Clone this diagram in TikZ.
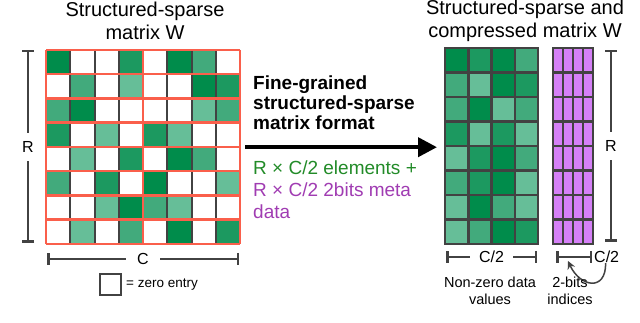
\documentclass[tikz,border=0pt]{standalone}
\usepackage{fontspec}
\setmainfont{Liberation Sans}
\usetikzlibrary{arrows.meta, positioning, calc}
\usepackage{xcolor}
\definecolor{nzA}{RGB}{0, 140, 75}
\definecolor{nzB}{RGB}{28, 153, 96}
\definecolor{nzC}{RGB}{66, 170, 124}
\definecolor{nzD}{RGB}{102, 190, 152}
\definecolor{sparseRed}{RGB}{250, 95, 75}
\definecolor{gridGray}{RGB}{66, 66, 66}
\definecolor{metaPurple}{RGB}{213, 128, 247}
\definecolor{elemGreen}{RGB}{34, 139, 40}
\definecolor{bitsPurple}{RGB}{160, 60, 178}

\begin{document}
\begin{tikzpicture}[
    x=1pt, y=-1pt,
    title/.style={align=center, font=\fontsize{20}{23}\selectfont},
    note/.style={align=left, anchor=west, inner sep=0pt},
    frame/.style={rectangle, inner sep=0pt, anchor=north west},
    dimline/.style={{Bar[width=12pt]}-{Bar[width=12pt]}, line width=2.5pt, gridGray},
    dimlabel/.style={fill=white, inner sep=0pt, font=\fontsize{16}{18}\selectfont},
    caption/.style={align=center, font=\fontsize{14.5}{17}\selectfont},
    bigarrow/.style={-{Triangle[length=19pt, width=19pt]}, line width=4pt, black}
]
\useasboundingbox (0,0) rectangle (640,323);

% Titles
\node[title] (tsparse) at (145,21) {Structured-sparse\\matrix W};
\node[title] (tcomp)   at (525,21) {Structured-sparse and\\compressed matrix W};

% Structured-sparse matrix, 8x8
\node[frame, minimum width=194pt, minimum height=194pt] (Wsp) at (46,50) {};
\foreach \row [count=\r from 0] in {{1,0,0,2,0,1,3,0},{0,3,0,4,0,0,1,2},{3,1,0,0,0,0,4,3},{2,0,4,0,2,4,0,0},
                                    {0,4,0,2,0,1,3,0},{3,0,2,0,1,0,0,4},{0,0,4,1,3,4,0,0},{0,4,0,3,0,1,0,2}}
  \foreach \v [count=\c from 0] in \row {
    \ifcase\v\or \fill[nzA] ({46+\c*24.25},{50+\r*24.25}) rectangle +(24.25,24.25);
    \or \fill[nzB] ({46+\c*24.25},{50+\r*24.25}) rectangle +(24.25,24.25);
    \or \fill[nzC] ({46+\c*24.25},{50+\r*24.25}) rectangle +(24.25,24.25);
    \or \fill[nzD] ({46+\c*24.25},{50+\r*24.25}) rectangle +(24.25,24.25);
    \fi
  };
\foreach \c in {1,2,3,5,6,7}
  \draw[gridGray, line width=2pt] ({46+\c*24.25},50) -- ++(0,194);
\foreach \r in {0,...,8}
  \draw[sparseRed, line width=2.5pt] (46,{50+\r*24.25}) -- ++(194,0);
\foreach \c in {0,4,8}
  \draw[sparseRed, line width=2.5pt] ({46+\c*24.25},50) -- ++(0,194);

% Dimensions of the sparse matrix
\draw[dimline] (28,50) -- (28,243);
\node[dimlabel, inner ysep=8pt] (rsp) at (28,147) {R};
\draw[dimline] (47,259) -- (239,259);
\node[dimlabel, inner xsep=11pt] (csp) at (143,259) {C};

% Legend
\draw[gridGray, line width=2.5pt] (100,274) rectangle (121,295);
\node[note, font=\fontsize{13.5}{16}\selectfont] (zero) at (126,285) {= zero entry};

% Compressed values, 8x4
\node[frame, minimum width=93pt, minimum height=196pt] (Wcomp) at (445,48) {};
\foreach \row [count=\r from 0] in {{1,2,1,3},{3,4,1,2},{3,1,4,3},{2,4,2,4},
                                    {4,2,1,3},{3,2,1,4},{4,1,3,4},{4,3,1,2}}
  \foreach \v [count=\c from 0] in \row {
    \ifcase\v\or \fill[nzA] ({445+\c*23.25},{48+\r*24.5}) rectangle +(23.25,24.5);
    \or \fill[nzB] ({445+\c*23.25},{48+\r*24.5}) rectangle +(23.25,24.5);
    \or \fill[nzC] ({445+\c*23.25},{48+\r*24.5}) rectangle +(23.25,24.5);
    \or \fill[nzD] ({445+\c*23.25},{48+\r*24.5}) rectangle +(23.25,24.5);
    \fi
  };
\draw[gridGray, line width=2.5pt] (445,48) rectangle (538,244);
\foreach \r in {1,...,7}
  \draw[gridGray, line width=2.5pt] (445,{48+\r*24.5}) -- ++(93,0);
\foreach \c in {1,2,3}
  \draw[gridGray, line width=2.5pt] ({445+\c*23.25},48) -- ++(0,196);

% Meta data indices, 8x4
\node[frame, minimum width=40pt, minimum height=196pt] (Widx) at (553,48) {};
\fill[metaPurple] (553,48) rectangle (593,244);
\draw[gridGray, line width=2.5pt] (553,48) rectangle (593,244);
\foreach \r in {1,...,7}
  \draw[gridGray, line width=2.5pt] (553,{48+\r*24.5}) -- ++(40,0);
\foreach \c in {1,2,3}
  \draw[gridGray, line width=2pt] ({553+\c*10},48) -- ++(0,196);

% Dimensions of the compressed matrix
\draw[dimline] (611,50) -- (611,242);
\node[dimlabel, inner ysep=8pt] (rcomp) at (611,146) {R};
\draw[dimline] (446,257) -- (537,257);
\node[dimlabel, inner xsep=9pt] (ccomp) at (491.5,257) {C/2};
\draw[dimline] (556,257) -- (592,257);
\node[note, font=\fontsize{16}{18}\selectfont] (cidx) at (594,257) {C/2};
\coordinate (idxtip) at (568,261);
\draw[-{Stealth[length=8pt, width=8pt]}, gridGray, line width=1.5pt]
  ([xshift=-1pt]cidx.south) .. controls (606,292) and (580,287) .. (idxtip);

\node[caption] (nzlabel)  at (490,291) {Non-zero data\\values};
\node[caption] (idxlabel) at (570,291) {2-bits\\indices};

% Conversion arrow
\node[note, font=\fontsize{19}{20}\selectfont\bfseries] (fmt) at (253,103)
  {Fine-grained\\structured-sparse\\matrix format};
\draw[bigarrow] ([xshift=5pt]Wsp.east) -- ([xshift=-8pt]Wsp.east -| Wcomp.west);
\node[note, font=\fontsize{19}{22}\selectfont] (cost) at (253,190)
  {\textcolor{elemGreen}{R × C/2 elements +}\\
   \textcolor{bitsPurple}{R × C/2 2bits meta}\\
   \textcolor{bitsPurple}{data}};

\end{tikzpicture}
\end{document}
